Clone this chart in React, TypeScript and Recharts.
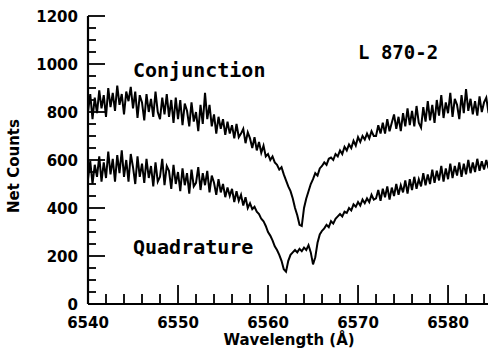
import React from 'react'
import { LineChart, Line, XAxis, YAxis } from 'recharts'

// wavelength grid: 6540 -> 6584.5 in 0.25 A steps
const waveStart = 6540
const waveStep = 0.25

// net counts (4 samples per Angstrom)
const conjunction = [
    800, 875, 770, 860, 795, 890, 815, 870, 780, 900, 820, 880, 805, 910, 830, 875,
    790, 885, 845, 905, 815, 885, 775, 870, 840, 765, 875, 800, 855, 780, 885, 800,
    770, 860, 790, 875, 780, 850, 755, 860, 770, 850, 745, 835, 805, 740, 840, 760,
    800, 720, 830, 750, 880, 770, 830, 740, 790, 710, 780, 730, 770, 705, 760, 710,
    745, 690, 750, 695, 710, 730, 670, 715, 690, 650, 695, 640, 675, 630, 660, 615,
    625, 600, 615, 590, 580, 560, 570, 540, 515, 490, 470, 440, 400, 370, 330, 325,
    400, 440, 470, 500, 520, 545, 535, 565, 575, 590, 580, 605, 610, 600, 625, 615,
    640, 625, 655, 640, 665, 650, 680, 660, 695, 675, 700, 685, 710, 690, 720, 700,
    700, 745, 710, 755, 710, 770, 720, 755, 790, 730, 780, 720, 795, 740, 815, 745,
    805, 740, 825, 755, 735, 820, 760, 845, 765, 830, 755, 850, 785, 870, 775, 840,
    795, 880, 780, 855, 830, 770, 870, 795, 895, 805, 855, 790, 845, 785, 865, 800,
    840, 860, 795,
]

const quadrature = [
    520, 595, 500, 580, 530, 615, 510, 590, 525, 635, 540, 605, 510, 620, 545, 640,
    530, 600, 510, 625, 570, 500, 615, 530, 585, 505, 605, 525, 575, 490, 590, 510,
    530, 605, 495, 575, 555, 480, 580, 500, 550, 470, 565, 495, 545, 460, 560, 490,
    505, 570, 475, 545, 495, 555, 465, 535, 505, 455, 520, 465, 500, 445, 485, 450,
    480, 425, 470, 430, 455, 410, 445, 400, 420, 395, 405, 385, 375, 355, 345, 325,
    300, 285, 265, 240, 225, 205, 180, 145, 135, 180, 205, 215, 225, 215, 230, 220,
    235, 225, 245, 215, 165, 195, 255, 290, 305, 315, 330, 320, 345, 335, 355, 365,
    375, 365, 385, 380, 400, 390, 415, 405, 425, 410, 435, 420, 440, 425, 455, 435,
    440, 475, 430, 480, 445, 490, 435, 485, 450, 500, 455, 495, 465, 515, 460, 520,
    475, 530, 480, 520, 490, 545, 495, 540, 500, 560, 505, 555, 515, 575, 510, 565,
    520, 585, 525, 575, 535, 590, 530, 585, 540, 600, 545, 590, 550, 605, 555, 595,
    560, 600, 565,
]

const xTicks = [
    6540, 6542, 6544, 6546, 6548, 6550, 6552, 6554, 6556, 6558, 6560, 6562,
    6564, 6566, 6568, 6570, 6572, 6574, 6576, 6578, 6580, 6582, 6584,
]
const yTicks = [
    0, 50, 100, 150, 200, 250, 300, 350, 400, 450, 500, 550, 600, 650, 700, 750,
    800, 850, 900, 950, 1000, 1050, 1100, 1150, 1200,
]

const data = conjunction.map((c, i) => ({
    w: waveStart + i * waveStep,
    c,
    q: quadrature[i],
}))

const labelFont = 'DejaVu Sans, sans-serif'
const monoFont = 'DejaVu Sans Mono, monospace'

const BottomTick = ({ x, y, payload }: any) => {
    const major = payload.value % 10 === 0
    return (
        <g>
            <line x1={x} x2={x} y1={y} y2={y - (major ? 19 : 10)} stroke="#000" strokeWidth={1.8} />
            {major && (
                <text x={x} y={y + 24} textAnchor="middle" fontFamily={labelFont} fontWeight="bold" fontSize={15} fill="#000">
                    {payload.value}
                </text>
            )}
        </g>
    )
}

const TopTick = ({ x, y, payload }: any) => {
    const major = payload.value % 10 === 0
    return <line x1={x} x2={x} y1={y} y2={y + (major ? 18 : 9)} stroke="#000" strokeWidth={1.8} />
}

const LeftTick = ({ x, y, payload }: any) => {
    const major = payload.value % 200 === 0
    return (
        <g>
            <line x1={x} x2={x + (major ? 17 : 8)} y1={y} y2={y} stroke="#000" strokeWidth={1.8} />
            {major && (
                <text x={x - 10} y={y + 5.5} textAnchor="end" fontFamily={labelFont} fontWeight="bold" fontSize={15} fill="#000">
                    {payload.value}
                </text>
            )}
        </g>
    )
}

const RightTick = ({ x, y, payload }: any) => {
    const major = payload.value % 200 === 0
    return <line x1={x} x2={x - (major ? 14 : 7)} y1={y} y2={y} stroke="#000" strokeWidth={1.8} />
}

export default function App() {
    return (
        <div style={{ position: 'absolute', left: 0, top: 0, width: 492, height: 349, background: '#fff' }}>
            <LineChart width={492} height={349} data={data} margin={{ top: 16, right: 4, bottom: 0, left: 0 }}>
                <XAxis
                    xAxisId="b"
                    dataKey="w"
                    type="number"
                    domain={[6540, 6584.44]}
                    allowDataOverflow
                    ticks={xTicks}
                    interval={0}
                    height={45}
                    tickSize={0}
                    tickMargin={0}
                    tickLine={false}
                    axisLine={{ stroke: '#000', strokeWidth: 2.2 }}
                    tick={BottomTick}
                />
                <XAxis
                    xAxisId="t"
                    orientation="top"
                    dataKey="w"
                    type="number"
                    domain={[6540, 6584.44]}
                    allowDataOverflow
                    ticks={xTicks}
                    interval={0}
                    height={0}
                    tickSize={0}
                    tickMargin={0}
                    tickLine={false}
                    axisLine={{ stroke: '#000', strokeWidth: 2.2 }}
                    tick={TopTick}
                />
                <YAxis
                    yAxisId="l"
                    type="number"
                    domain={[0, 1200]}
                    allowDataOverflow
                    ticks={yTicks}
                    interval={0}
                    width={88}
                    tickSize={0}
                    tickMargin={0}
                    tickLine={false}
                    axisLine={{ stroke: '#000', strokeWidth: 2.2 }}
                    tick={LeftTick}
                />
                <YAxis
                    yAxisId="r"
                    orientation="right"
                    type="number"
                    domain={[0, 1200]}
                    allowDataOverflow
                    ticks={yTicks}
                    interval={0}
                    width={0}
                    tickSize={0}
                    tickMargin={0}
                    tickLine={false}
                    axisLine={{ stroke: '#000', strokeWidth: 2.2 }}
                    tick={RightTick}
                />
                <Line
                    xAxisId="b"
                    yAxisId="l"
                    type="linear"
                    dataKey="c"
                    stroke="#000"
                    strokeWidth={2}
                    dot={false}
                    isAnimationActive={false}
                />
                <Line
                    xAxisId="b"
                    yAxisId="l"
                    type="linear"
                    dataKey="q"
                    stroke="#000"
                    strokeWidth={2}
                    dot={false}
                    isAnimationActive={false}
                />
            </LineChart>
            <svg width={492} height={349} style={{ position: 'absolute', left: 0, top: 0, pointerEvents: 'none' }}>
                <text x={133} y={77} fontFamily={monoFont} fontWeight="bold" fontSize={20} fill="#000">Conjunction</text>
                <text x={133} y={254} fontFamily={monoFont} fontWeight="bold" fontSize={20} fill="#000">Quadrature</text>
                <text x={358} y={59} fontFamily={monoFont} fontWeight="bold" fontSize={19} fill="#000">L 870-2</text>
                <text x={289} y={345} textAnchor="middle" fontFamily={labelFont} fontWeight="bold" fontSize={15} fill="#000">
                    Wavelength (Å)
                </text>
                <text
                    x={19}
                    y={166}
                    textAnchor="middle"
                    transform="rotate(-90 19 166)"
                    fontFamily={labelFont}
                    fontWeight="bold"
                    fontSize={15}
                    fill="#000"
                >
                    Net Counts
                </text>
            </svg>
        </div>
    )
}
